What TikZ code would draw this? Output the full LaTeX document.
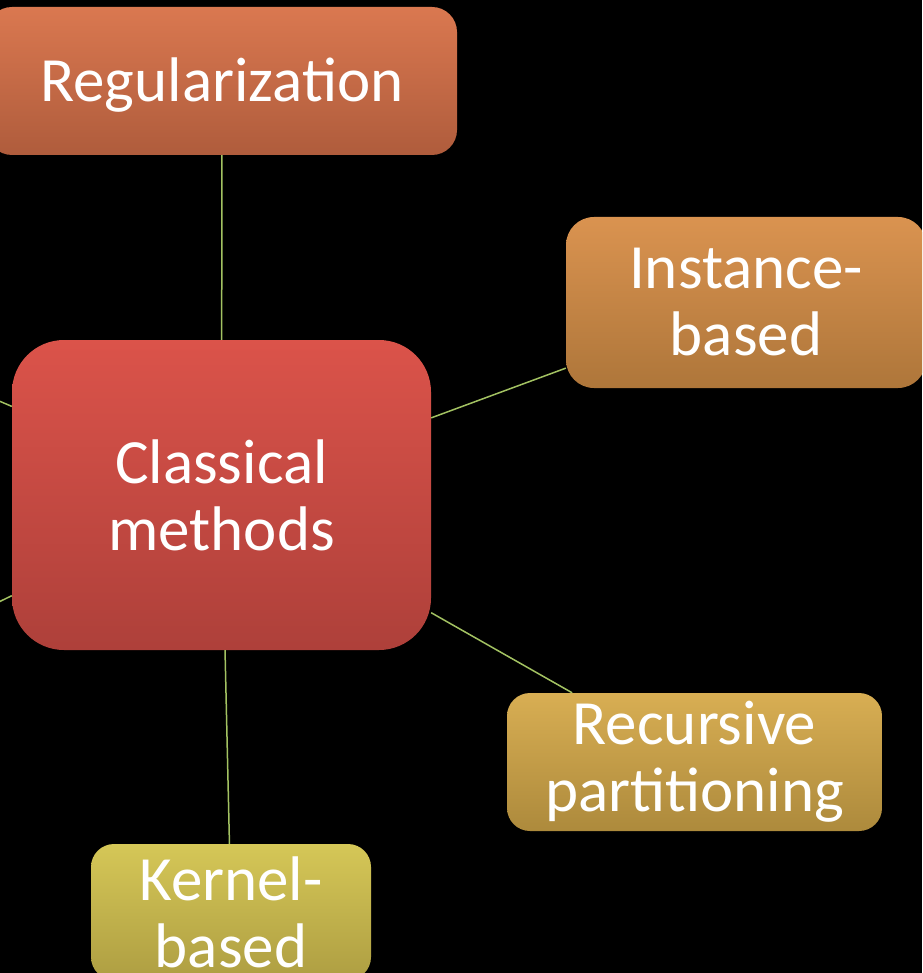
\documentclass[tikz,border=0pt]{standalone}
\usepackage{fontspec}
\setmainfont{Carlito}
\definecolor{regtop}{HTML}{DA7850}
\definecolor{regbot}{HTML}{AF5C3C}
\definecolor{clstop}{HTML}{DB534A}
\definecolor{clsbot}{HTML}{AE403A}
\definecolor{insttop}{HTML}{DA9350}
\definecolor{instbot}{HTML}{AE763A}
\definecolor{rectop}{HTML}{D8AE53}
\definecolor{recbot}{HTML}{AD8A3C}
\definecolor{kertop}{HTML}{D5C757}
\definecolor{kerbot}{HTML}{AE9E42}
\definecolor{linkgreen}{HTML}{A3C262}

\begin{document}
\begin{tikzpicture}[x=1pt,y=-1pt,
    box/.style={rounded corners=#1, inner sep=0pt, align=center, text=white,
        font=\fontsize{63}{67}\selectfont},
    link/.style={draw=linkgreen, line width=1.5pt}]
    % Background
    \fill[black] (0,0) rectangle (922,973);
    \useasboundingbox (0,0) rectangle (922,973);
    \clip (0,0) rectangle (922,973);

    % Centre
    \node[box=52, minimum width=419, minimum height=310, top color=clstop, bottom color=clsbot]
        (cls) at (221.5,495) {Classical\\methods};

    % Regularization
    \node[box=25, minimum width=470, minimum height=148, top color=regtop, bottom color=regbot,
        text height=41pt, text depth=0pt]
        (reg) at (222,81) {Regularization};

    % Instance-based
    \node[box=28, minimum width=360, minimum height=171, top color=insttop, bottom color=instbot]
        (inst) at (746,302.5) {Instance-\\based};

    % Recursive partitioning
    \node[box=23, minimum width=375, minimum height=138, top color=rectop, bottom color=recbot]
        (rec) at (694.5,762) {Recursive\\partitioning};

    % Kernel-based
    \node[box=23, minimum width=280, minimum height=136, top color=kertop, bottom color=kerbot]
        (ker) at (231,912) {Kernel-\\based};

    % Branches leaving the picture
    \coordinate (offup) at (-100,358.6);
    \coordinate (offdown) at (-100,650);

    % Links
    \draw[link] (cls) -- (reg);
    \draw[link] (cls) -- (inst);
    \draw[link] (cls) -- (rec);
    \draw[link] (cls) -- (ker);
    \draw[link] (cls) -- (offup);
    \draw[link] (cls) -- (offdown);
\end{tikzpicture}
\end{document}
